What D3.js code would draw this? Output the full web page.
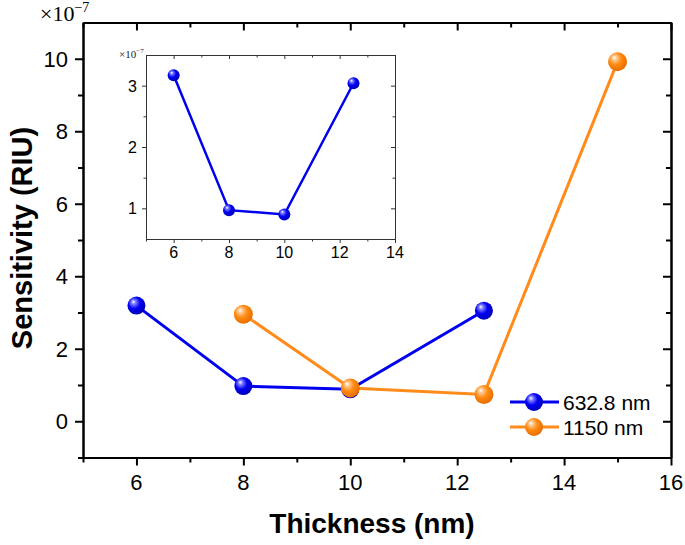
<!DOCTYPE html>
<html><head><meta charset="utf-8">
<script src="https://cdn.jsdelivr.net/npm/d3@7"></script>
<style>body{margin:0;background:#fff;}svg{display:block;}</style>
</head><body>
<script>
const thickBlue = [6, 8, 10, 12.5];
const sensBlue = [3.19, 0.97, 0.88, 3.05];
const thickOrange = [8, 10, 12.5, 15];
const sensOrange = [2.95, 0.92, 0.74, 9.92];
const insetThick = [6, 8, 10, 12.5];
const insetSens = [3.17, 0.97, 0.90, 3.04];
const xTicks = [6, 8, 10, 12, 14, 16];
const yTicks = [0, 2, 4, 6, 8, 10];
const insetXTicks = [6, 8, 10, 12, 14];
const insetYTicks = [1, 2, 3];
const seriesNames = ["632.8 nm", "1150 nm"];

const W = 685, H = 545;
const svg = d3.select("body").append("svg").attr("width", W).attr("height", H);
const defs = svg.append("defs");
function grad(id, base, mid, hi) {
  const g = defs.append("radialGradient").attr("id", id)
    .attr("cx", "42%").attr("cy", "40%").attr("r", "60%").attr("fx", "32%").attr("fy", "28%");
  g.append("stop").attr("offset", "0%").attr("stop-color", "#ffffff");
  g.append("stop").attr("offset", "20%").attr("stop-color", hi);
  g.append("stop").attr("offset", "55%").attr("stop-color", mid);
  g.append("stop").attr("offset", "100%").attr("stop-color", base);
}
grad("gBlue", "#0000b8", "#0000f5", "#8080ff");
grad("gOrange", "#e86e00", "#ff8a10", "#ffc890");
const colBlue = "#0000ee", colOrange = "#ff8c1a";

const x = d3.scaleLinear().domain([5, 16]).range([83, 671]);
const y = d3.scaleLinear().domain([-1, 11]).range([457.5, 22.5]);
const font = "Liberation Sans, Arial, sans-serif";

function axesFrame(g, xs, ys, xMaj, xMin, yMaj, yMin, tl, tm, sw, color) {
  const [x0, x1] = xs.range(); const [y0, y1] = ys.range();
  const parts = [
    [`translate(0,${y0})`, d3.axisBottom(xs).tickValues(xMaj).tickSize(tl)],
    [`translate(0,${y0})`, d3.axisBottom(xs).tickValues(xMin).tickSize(tm)],
    [`translate(${x0},0)`, d3.axisLeft(ys).tickValues(yMaj).tickSize(tl)],
    [`translate(${x0},0)`, d3.axisLeft(ys).tickValues(yMin).tickSize(tm)],
    [`translate(0,${y1})`, d3.axisBottom(xs).tickValues(xMaj).tickSize(tl)],
    [`translate(0,${y1})`, d3.axisBottom(xs).tickValues(xMin).tickSize(tm)],
    [`translate(${x1},0)`, d3.axisLeft(ys).tickValues(yMaj).tickSize(tl)],
    [`translate(${x1},0)`, d3.axisLeft(ys).tickValues(yMin).tickSize(tm)]
  ];
  parts.forEach(([tr, ax]) => {
    const a = g.append("g").attr("transform", tr).call(ax.tickSizeOuter(0).tickFormat(""));
    a.selectAll("path").attr("stroke", color).attr("stroke-width", sw);
    a.selectAll("line").attr("stroke", color).attr("stroke-width", sw);
  });
}

const g = svg.append("g");
axesFrame(g, x, y, xTicks, [5, 7, 9, 11, 13, 15], yTicks, [-1, 1, 3, 5, 7, 9], 8, 5, 2, "#000");
g.selectAll(".xl").data(xTicks).enter().append("text")
  .attr("x", d => x(d)).attr("y", 490).attr("text-anchor", "middle")
  .attr("font-family", font).attr("font-size", 22).text(d => d);
g.selectAll(".yl").data(yTicks).enter().append("text")
  .attr("x", 68).attr("y", d => y(d) + 8).attr("text-anchor", "end")
  .attr("font-family", font).attr("font-size", 22).text(d => d);
const mult = svg.append("text").attr("x", 40).attr("y", 21)
  .attr("font-family", "Liberation Serif, Times New Roman, serif").attr("font-size", 22);
mult.append("tspan").text("×10");
mult.append("tspan").attr("dy", -9).attr("font-size", 14).text("−7");
svg.append("text").attr("x", 372).attr("y", 533).attr("text-anchor", "middle")
  .attr("font-family", font).attr("font-weight", "bold").attr("font-size", 28).text("Thickness (nm)");
svg.append("text").attr("transform", "translate(32,238) rotate(-90)").attr("text-anchor", "middle")
  .attr("font-family", font).attr("font-weight", "bold").attr("font-size", 29).text("Sensitivity (RIU)");

const line = (xs, ys) => d3.line().x(d => xs(d[0])).y(d => ys(d[1]));
const blueData = thickBlue.map((t, i) => [t, sensBlue[i]]);
const orangeData = thickOrange.map((t, i) => [t, sensOrange[i]]);
g.append("path").datum(blueData).attr("d", line(x, y)).attr("fill", "none")
  .attr("stroke", colBlue).attr("stroke-width", 3);
g.selectAll(".mb").data(blueData).enter().append("circle")
  .attr("cx", d => x(d[0])).attr("cy", d => y(d[1])).attr("r", 9).attr("fill", "url(#gBlue)");
g.append("path").datum(orangeData).attr("d", line(x, y)).attr("fill", "none")
  .attr("stroke", colOrange).attr("stroke-width", 3);
g.selectAll(".mo").data(orangeData).enter().append("circle")
  .attr("cx", d => x(d[0])).attr("cy", d => y(d[1])).attr("r", 9.5).attr("fill", "url(#gOrange)");

const leg = svg.append("g");
[[colBlue, "url(#gBlue)"], [colOrange, "url(#gOrange)"]].forEach((c, i) => {
  const yy = 402 + i * 25;
  leg.append("line").attr("x1", 510).attr("x2", 559).attr("y1", yy).attr("y2", yy)
    .attr("stroke", c[0]).attr("stroke-width", 3);
  leg.append("circle").attr("cx", 534).attr("cy", yy).attr("r", 9).attr("fill", c[1]);
  leg.append("text").attr("x", 563).attr("y", yy + 7.5).attr("font-family", font)
    .attr("font-size", 21).text(seriesNames[i]);
});

const xi = d3.scaleLinear().domain([5, 14]).range([146, 395]);
const yi = d3.scaleLinear().domain([0.5, 3.5]).range([239, 55]);
const gi = svg.append("g");
axesFrame(gi, xi, yi, insetXTicks, [5, 7, 9, 11, 13], insetYTicks, [1.5, 2.5], 4, 2.5, 1, "#333");
gi.selectAll(".xli").data(insetXTicks).enter().append("text")
  .attr("x", d => xi(d)).attr("y", 258).attr("text-anchor", "middle")
  .attr("font-family", font).attr("font-size", 16).text(d => d);
gi.selectAll(".yli").data(insetYTicks).enter().append("text")
  .attr("x", 137).attr("y", d => yi(d) + 6).attr("text-anchor", "end")
  .attr("font-family", font).attr("font-size", 16).text(d => d);
const mi = svg.append("text").attr("x", 119).attr("y", 58)
  .attr("font-family", "Liberation Serif, Times New Roman, serif").attr("font-size", 11).attr("fill", "#222");
mi.append("tspan").text("×10");
mi.append("tspan").attr("dy", -5).attr("font-size", 7).text("−7");
const insetData = insetThick.map((t, i) => [t, insetSens[i]]);
gi.append("path").datum(insetData).attr("d", line(xi, yi)).attr("fill", "none")
  .attr("stroke", colBlue).attr("stroke-width", 2.5);
gi.selectAll(".mi").data(insetData).enter().append("circle")
  .attr("cx", d => xi(d[0])).attr("cy", d => yi(d[1])).attr("r", 6).attr("fill", "url(#gBlue)");
</script>
</body></html>
